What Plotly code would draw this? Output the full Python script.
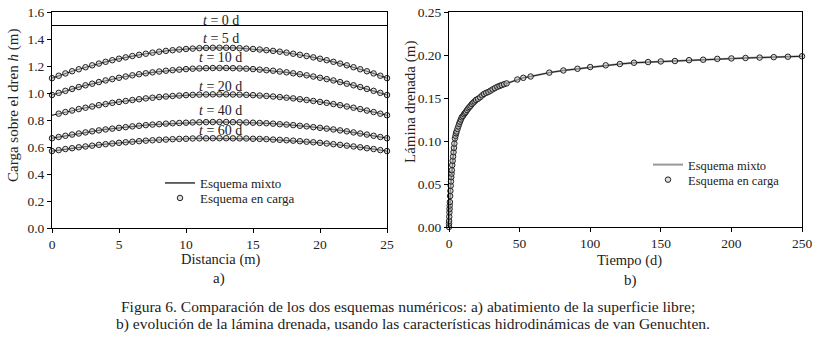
import plotly.graph_objects as go

# ---------------- Data: panel a) ----------------
dist = [i * 0.5 for i in range(51)]  # 0 .. 25 m, every 0.5 m

h_t0 = [1.5, 1.5]
dist_t0 = [0, 25]

h_t5 = [1.110, 1.128, 1.145, 1.161, 1.176, 1.191, 1.205, 1.218, 1.231, 1.243,
        1.254, 1.264, 1.274, 1.283, 1.291, 1.299, 1.306, 1.312, 1.317, 1.322,
        1.326, 1.329, 1.332, 1.334, 1.335, 1.335, 1.335, 1.334, 1.332, 1.329,
        1.326, 1.322, 1.317, 1.312, 1.306, 1.299, 1.291, 1.283, 1.274, 1.264,
        1.254, 1.243, 1.231, 1.218, 1.205, 1.191, 1.176, 1.161, 1.145, 1.128,
        1.110]
h_t10 = [0.985, 1.001, 1.016, 1.030, 1.044, 1.057, 1.069, 1.081, 1.093, 1.103,
         1.113, 1.122, 1.131, 1.139, 1.146, 1.153, 1.159, 1.165, 1.169, 1.173,
         1.177, 1.180, 1.182, 1.184, 1.185, 1.185, 1.185, 1.184, 1.182, 1.180,
         1.177, 1.173, 1.169, 1.165, 1.159, 1.153, 1.146, 1.139, 1.131, 1.122,
         1.113, 1.103, 1.093, 1.081, 1.069, 1.057, 1.044, 1.030, 1.016, 1.001,
         0.985]
h_t20 = [0.835, 0.847, 0.859, 0.870, 0.881, 0.891, 0.900, 0.910, 0.918, 0.927,
         0.934, 0.941, 0.948, 0.954, 0.960, 0.965, 0.970, 0.974, 0.978, 0.981,
         0.984, 0.986, 0.988, 0.989, 0.990, 0.990, 0.990, 0.989, 0.988, 0.986,
         0.984, 0.981, 0.978, 0.974, 0.970, 0.965, 0.960, 0.954, 0.948, 0.941,
         0.934, 0.927, 0.918, 0.910, 0.900, 0.891, 0.881, 0.870, 0.859, 0.847,
         0.835]
h_t40 = [0.665, 0.674, 0.683, 0.692, 0.700, 0.708, 0.716, 0.723, 0.730, 0.736,
         0.742, 0.747, 0.753, 0.757, 0.762, 0.766, 0.769, 0.773, 0.776, 0.778,
         0.780, 0.782, 0.783, 0.784, 0.785, 0.785, 0.785, 0.784, 0.783, 0.782,
         0.780, 0.778, 0.776, 0.773, 0.769, 0.766, 0.762, 0.757, 0.753, 0.747,
         0.742, 0.736, 0.730, 0.723, 0.716, 0.708, 0.700, 0.692, 0.683, 0.674,
         0.665]
h_t60 = [0.570, 0.577, 0.585, 0.591, 0.598, 0.604, 0.610, 0.616, 0.621, 0.626,
         0.631, 0.635, 0.639, 0.643, 0.647, 0.650, 0.653, 0.655, 0.658, 0.660,
         0.661, 0.663, 0.664, 0.664, 0.665, 0.665, 0.665, 0.664, 0.664, 0.663,
         0.661, 0.660, 0.658, 0.655, 0.653, 0.650, 0.647, 0.643, 0.639, 0.635,
         0.631, 0.626, 0.621, 0.616, 0.610, 0.604, 0.598, 0.591, 0.585, 0.577,
         0.570]
profiles = [h_t5, h_t10, h_t20, h_t40, h_t60]
profile_labels = ["<i>t</i> = 0 d", "<i>t</i> = 5 d", "<i>t</i> = 10 d",
                  "<i>t</i> = 20 d", "<i>t</i> = 40 d", "<i>t</i> = 60 d"]
label_heights = [1.54, 1.405, 1.26, 1.05, 0.87, 0.72]

# ---------------- Data: panel b) ----------------
tiempo = [0, 0.05, 0.1, 0.2, 0.3, 0.4, 0.5, 0.6, 0.8, 1.0, 1.2, 1.4, 1.6, 1.8,
          2.0, 2.3, 2.6, 2.9, 3.2, 3.5, 3.8, 4.2, 4.6, 5.0, 5.4, 6.0, 6.6, 7.2,
          7.8, 8.4, 9.0, 9.8, 10.6, 11.3, 12.0, 12.8, 13.7, 14.5, 15.3, 16.2,
          17.2, 18.1, 19.1, 20.5, 22.0, 23.5, 24.8, 26.3, 27.9, 29.4, 30.9,
          32.5, 34.2, 35.8, 37.3, 39.0, 40.8, 48.4, 52.6, 57.8, 71, 81, 91, 100,
          111, 121, 131, 141, 150, 160, 170, 180, 190, 200, 210, 220, 230, 240,
          250]
lamina = [0.0, 0.004, 0.007, 0.012, 0.017, 0.021, 0.025, 0.029, 0.036, 0.042,
          0.048, 0.053, 0.058, 0.062, 0.066, 0.072, 0.077, 0.082, 0.087, 0.092,
          0.097, 0.103, 0.106, 0.109, 0.111, 0.114, 0.117, 0.120, 0.1225, 0.125,
          0.1275, 0.129, 0.131, 0.1325, 0.134, 0.136, 0.138, 0.1395, 0.141,
          0.143, 0.1446, 0.146, 0.1477, 0.149, 0.1508, 0.153, 0.1547, 0.156,
          0.157, 0.1585, 0.160, 0.1615, 0.163, 0.164, 0.165, 0.166, 0.167,
          0.1715, 0.1735, 0.175, 0.1795, 0.182, 0.184, 0.186, 0.188, 0.1895,
          0.191, 0.1918, 0.1925, 0.193, 0.194, 0.1945, 0.1955, 0.196, 0.1965,
          0.197, 0.1975, 0.198, 0.1985]

FONT = "Liberation Serif"
TXT = "#222"
W, H = 816, 340

fig = go.Figure()

marker_style = dict(symbol="circle", size=5.5, color="rgba(200,200,200,0.55)",
                    line=dict(color="#222", width=1))

# panel a) lines
fig.add_trace(go.Scatter(x=dist_t0, y=h_t0, mode="lines",
                         line=dict(color="black", width=1.2),
                         showlegend=False, xaxis="x", yaxis="y"))
for i, prof in enumerate(profiles):
    fig.add_trace(go.Scatter(x=dist, y=prof, mode="lines",
                             line=dict(color="black", width=1.2),
                             name="Esquema mixto", legend="legend",
                             showlegend=(i == 0), xaxis="x", yaxis="y"))
for i, prof in enumerate(profiles):
    yy = list(prof)
    if i == 2:
        yy[0] = None
    fig.add_trace(go.Scatter(x=dist, y=yy, mode="markers", marker=marker_style,
                             name="Esquema en carga", legend="legend3",
                             showlegend=(i == 0), cliponaxis=False,
                             xaxis="x", yaxis="y"))

# panel b)
fig.add_trace(go.Scatter(x=tiempo, y=lamina, mode="lines",
                         line=dict(color="#999999", width=2),
                         name="Esquema mixto", legend="legend2",
                         xaxis="x2", yaxis="y2"))
fig.add_trace(go.Scatter(x=tiempo, y=lamina, mode="lines",
                         line=dict(color="black", width=0.8),
                         showlegend=False, xaxis="x2", yaxis="y2"))
fig.add_trace(go.Scatter(x=tiempo, y=lamina, mode="markers", marker=marker_style,
                         name="Esquema en carga", legend="legend4",
                         cliponaxis=False, xaxis="x2", yaxis="y2"))

axis_common = dict(showline=True, linecolor="black", linewidth=1, mirror=True,
                   ticks="outside", ticklen=4, tickcolor="black",
                   showgrid=False, zeroline=False,
                   tickfont=dict(family=FONT, size=13.5, color=TXT),
                   automargin=False)


def leg(px, top, size=13):
    return dict(x=px / W, y=1 - top / H, xanchor="left", yanchor="top",
                bgcolor="rgba(0,0,0,0)", font=dict(family=FONT, size=size, color=TXT),
                itemwidth=30, tracegroupgap=0)


fig.update_layout(
    width=W, height=H,
    margin=dict(l=0, r=0, t=0, b=0),
    paper_bgcolor="white", plot_bgcolor="white",
    font=dict(family=FONT, size=13, color=TXT),
    xaxis=dict(domain=[52 / W, 387 / W], range=[0, 25], tickvals=[0, 5, 10, 15, 20, 25],
               anchor="y", **axis_common),
    yaxis=dict(domain=[1 - 228 / H, 1 - 12 / H], range=[0, 1.6],
               tickvals=[0, 0.2, 0.4, 0.6, 0.8, 1.0, 1.2, 1.4, 1.6],
               tickformat=".1f", anchor="x", **axis_common),
    xaxis2=dict(domain=[449 / W, 802 / W], range=[0, 250],
                tickvals=[0, 50, 100, 150, 200, 250], anchor="y2", **axis_common),
    yaxis2=dict(domain=[1 - 227 / H, 1 - 12 / H], range=[0, 0.25],
                tickvals=[0, 0.05, 0.10, 0.15, 0.20, 0.25],
                tickformat=".2f", anchor="x2", **axis_common),
    legend=leg(160, 168),
    legend3=leg(160, 183),
    legend2=leg(648, 150, 12.5),
    legend4=leg(648, 165, 12.5),
    showlegend=True,
)

# profile labels (data coordinates)
for lab, hy in zip(profile_labels, label_heights):
    fig.add_annotation(x=12.6, y=hy, xref="x", yref="y", text=lab,
                       showarrow=False, font=dict(family=FONT, size=14, color=TXT))

# axis titles and sub-labels
texts = [
    (221, 259, "Distancia (m)", 14.5, 0),
    (219, 278, "a)", 15, 0),
    (629, 260, "Tiempo (d)", 14.5, 0),
    (630, 280, "b)", 15, 0),
    (13, 106, "Carga sobre el dren <i>h</i> (m)", 15, -90),
    (410, 102, "Lámina drenada (m)", 15, -90),
    (408, 307, "Figura 6. Comparación de los dos esquemas numéricos: a) abatimiento de la superficie libre;", 15.5, 0),
    (413, 324, "b) evolución de la lámina drenada, usando las características hidrodinámicas de van Genuchten.", 15.5, 0),
]
for px, py, txt, sz, ang in texts:
    fig.add_annotation(x=px / W, y=1 - py / H, xref="paper", yref="paper",
                       text=txt, showarrow=False, textangle=ang,
                       xanchor="center", yanchor="middle",
                       font=dict(family=FONT, size=sz, color=TXT))

fig.write_html("out.html", config={"displayModeBar": False},
               post_script="document.body.style.margin='0';document.body.style.overflow='hidden';")
